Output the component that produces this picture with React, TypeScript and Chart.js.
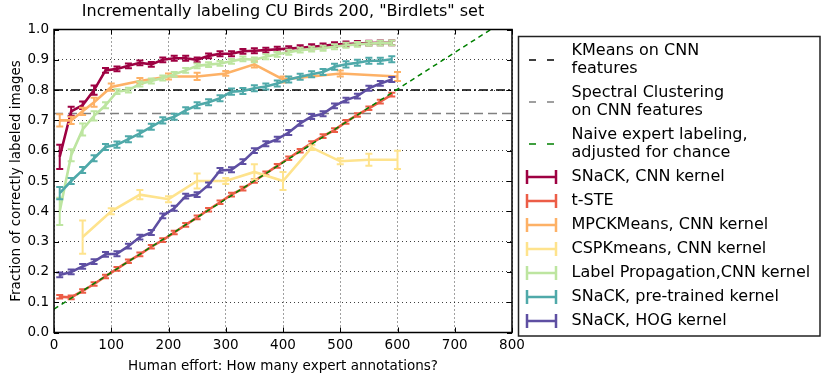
import React, { useEffect, useRef } from "react";
import { Chart, registerables } from "chart.js";

Chart.register(...registerables);

// ---------- data ----------
const xTicks = [0, 100, 200, 300, 400, 500, 600, 700, 800];
const yTicks = [0, 0.1, 0.2, 0.3, 0.4, 0.5, 0.6, 0.7, 0.8, 0.9, 1.0];

const effortX = [10, 30, 50, 70, 90, 110, 130, 150, 170, 190, 210, 230, 250, 270, 290, 310, 330, 350, 370, 390, 410, 430, 450, 470, 490, 510, 530, 550, 570, 590];

const snackCnnY = [0.58, 0.73, 0.75, 0.8, 0.865, 0.87, 0.88, 0.89, 0.885, 0.9, 0.905, 0.905, 0.9, 0.913, 0.92, 0.92, 0.928, 0.93, 0.932, 0.935, 0.937, 0.94, 0.943, 0.946, 0.95, 0.952, 0.954, 0.955, 0.956, 0.956];
const snackCnnErr = [0.04, 0.015, 0.012, 0.015, 0.008, 0.008, 0.008, 0.008, 0.008, 0.008, 0.008, 0.008, 0.008, 0.008, 0.008, 0.008, 0.008, 0.008, 0.008, 0.008, 0.008, 0.008, 0.008, 0.008, 0.008, 0.008, 0.008, 0.008, 0.008, 0.008];

const tsteY = [0.118, 0.116, 0.137, 0.16, 0.185, 0.21, 0.235, 0.258, 0.283, 0.305, 0.33, 0.355, 0.38, 0.405, 0.43, 0.455, 0.475, 0.5, 0.525, 0.55, 0.575, 0.6, 0.625, 0.648, 0.668, 0.695, 0.718, 0.74, 0.762, 0.785];
const tsteErr = [0.006, 0.006, 0.006, 0.006, 0.006, 0.006, 0.006, 0.006, 0.006, 0.006, 0.006, 0.006, 0.006, 0.006, 0.006, 0.006, 0.006, 0.006, 0.006, 0.006, 0.006, 0.006, 0.006, 0.006, 0.006, 0.006, 0.006, 0.006, 0.006, 0.006];

const mpckX = [10, 30, 50, 70, 100, 150, 200, 250, 300, 350, 400, 500, 600];
const mpckY = [0.7, 0.7, 0.73, 0.76, 0.81, 0.83, 0.845, 0.845, 0.855, 0.885, 0.835, 0.855, 0.845];
const mpckErr = [0.02, 0.012, 0.012, 0.015, 0.012, 0.01, 0.01, 0.012, 0.008, 0.01, 0.01, 0.01, 0.015];

const cspkX = [50, 100, 150, 200, 250, 300, 350, 400, 450, 500, 550, 600];
const cspkY = [0.315, 0.4, 0.455, 0.44, 0.5, 0.5, 0.53, 0.5, 0.61, 0.565, 0.57, 0.57];
const cspkErr = [0.055, 0.01, 0.015, 0.01, 0.025, 0.01, 0.025, 0.03, 0.008, 0.01, 0.02, 0.03];

const labelPropY = [0.4, 0.585, 0.67, 0.715, 0.75, 0.795, 0.8, 0.82, 0.83, 0.84, 0.852, 0.865, 0.88, 0.884, 0.888, 0.895, 0.903, 0.9, 0.91, 0.918, 0.925, 0.932, 0.935, 0.938, 0.943, 0.948, 0.951, 0.954, 0.955, 0.956];
const labelPropErr = [0.045, 0.02, 0.02, 0.015, 0.01, 0.008, 0.008, 0.008, 0.008, 0.008, 0.008, 0.008, 0.008, 0.008, 0.008, 0.008, 0.008, 0.008, 0.008, 0.008, 0.008, 0.008, 0.008, 0.008, 0.008, 0.008, 0.008, 0.008, 0.008, 0.008];

const pretrainedY = [0.46, 0.5, 0.536, 0.575, 0.612, 0.62, 0.638, 0.657, 0.679, 0.7, 0.712, 0.733, 0.75, 0.76, 0.773, 0.795, 0.797, 0.806, 0.812, 0.822, 0.835, 0.844, 0.852, 0.86, 0.877, 0.885, 0.89, 0.897, 0.897, 0.902];
const pretrainedErr = [0.02, 0.01, 0.01, 0.01, 0.01, 0.01, 0.01, 0.01, 0.01, 0.01, 0.01, 0.01, 0.01, 0.01, 0.01, 0.01, 0.01, 0.01, 0.01, 0.01, 0.01, 0.01, 0.01, 0.01, 0.01, 0.01, 0.01, 0.01, 0.01, 0.01];

const hogY = [0.19, 0.2, 0.218, 0.234, 0.258, 0.26, 0.285, 0.315, 0.33, 0.385, 0.41, 0.45, 0.455, 0.487, 0.535, 0.537, 0.564, 0.6, 0.623, 0.638, 0.66, 0.69, 0.713, 0.722, 0.748, 0.767, 0.78, 0.806, 0.822, 0.835];
const hogErr = [0.008, 0.008, 0.008, 0.008, 0.008, 0.008, 0.008, 0.008, 0.008, 0.008, 0.008, 0.008, 0.008, 0.008, 0.008, 0.008, 0.008, 0.008, 0.008, 0.008, 0.008, 0.008, 0.008, 0.008, 0.008, 0.008, 0.008, 0.008, 0.008, 0.008];

const kmeansLevel = 0.8;
const spectralLevel = 0.723;
const naiveX = [0, 800];
const naiveY = [0.077, 1.045];

const seriesNames = [
  "SNaCK, CNN kernel",
  "t-STE",
  "MPCKMeans, CNN kernel",
  "CSPKmeans, CNN kernel",
  "Label Propagation,CNN kernel",
  "SNaCK, pre-trained kernel",
  "SNaCK, HOG kernel",
];
const seriesColors = ["#9e0142", "#ec5d47", "#fdb166", "#fee38d", "#bde5a0", "#4fa9a9", "#5e4fa2"];

const refNames = [
  ["KMeans on CNN", "features"],
  ["Spectral Clustering", "on CNN features"],
  ["Naive expert labeling,", "adjusted for chance"],
];
const refColors = ["#000000", "#808080", "#008000"];

const titleText = 'Incrementally labeling CU Birds 200, "Birdlets" set';
const xLabel = "Human effort: How many expert annotations?";
const yLabel = "Fraction of correctly labeled images";

const FONT = '"DejaVu Sans", sans-serif';

const pts = (xs: number[], ys: number[]) => xs.map((x, i) => ({ x, y: ys[i] }));

const errorBarPlugin = {
  id: "errbars",
  afterDatasetDraw(chart: any, args: any) {
    const ds = chart.data.datasets[args.index];
    if (!ds.err) return;
    const ctx = chart.ctx;
    const ys = chart.scales.y;
    const a = chart.chartArea;
    ctx.save();
    ctx.beginPath();
    ctx.rect(a.left, a.top - 2, a.right - a.left, a.bottom - a.top + 4);
    ctx.clip();
    ctx.strokeStyle = ds.borderColor;
    ctx.lineWidth = 2;
    ctx.setLineDash([]);
    args.meta.data.forEach((el: any, i: number) => {
      const v = ds.data[i].y;
      const e = ds.err[i];
      const x = el.x;
      const y1 = ys.getPixelForValue(v - e);
      const y2 = ys.getPixelForValue(v + e);
      ctx.beginPath();
      ctx.moveTo(x, y1);
      ctx.lineTo(x, y2);
      ctx.moveTo(x - 3.5, y1);
      ctx.lineTo(x + 3.5, y1);
      ctx.moveTo(x - 3.5, y2);
      ctx.lineTo(x + 3.5, y2);
      ctx.stroke();
    });
    ctx.restore();
  },
};

const decorPlugin = {
  id: "decor",
  afterDraw(chart: any) {
    const ctx = chart.ctx;
    const a = chart.chartArea;
    const xs = chart.scales.x;
    const ys = chart.scales.y;
    ctx.save();
    // inward ticks
    ctx.strokeStyle = "#000";
    ctx.lineWidth = 1;
    ctx.setLineDash([]);
    xTicks.forEach((t) => {
      const px = Math.round(xs.getPixelForValue(t)) + 0.5;
      ctx.beginPath();
      ctx.moveTo(px, a.bottom);
      ctx.lineTo(px, a.bottom - 5);
      ctx.moveTo(px, a.top);
      ctx.lineTo(px, a.top + 5);
      ctx.stroke();
    });
    yTicks.forEach((t) => {
      const py = Math.round(ys.getPixelForValue(t)) + 0.5;
      ctx.beginPath();
      ctx.moveTo(a.left, py);
      ctx.lineTo(a.left + 5, py);
      ctx.moveTo(a.right, py);
      ctx.lineTo(a.right - 5, py);
      ctx.stroke();
    });
    // frame
    ctx.lineWidth = 1.5;
    ctx.strokeRect(a.left, a.top, a.right - a.left, a.bottom - a.top);

    // title & axis labels
    ctx.fillStyle = "#000";
    ctx.textAlign = "center";
    ctx.textBaseline = "middle";
    ctx.font = `16px ${FONT}`;
    ctx.fillText(titleText, (a.left + a.right) / 2, 12);
    ctx.font = `13.5px ${FONT}`;
    ctx.fillText(xLabel, (a.left + a.right) / 2, 366);
    ctx.save();
    ctx.translate(16, (a.top + a.bottom) / 2);
    ctx.rotate(-Math.PI / 2);
    ctx.fillText(yLabel, 0, 0);
    ctx.restore();

    // legend
    const lx = 518.5, ly = 36.5, lw = 301.5, lh = 299.5;
    ctx.fillStyle = "#fff";
    ctx.fillRect(lx, ly, lw, lh);
    ctx.strokeStyle = "#222";
    ctx.lineWidth = 1.5;
    ctx.strokeRect(lx, ly, lw, lh);
    ctx.font = `16px ${FONT}`;
    ctx.textAlign = "left";
    ctx.fillStyle = "#000";
    const textX = 571.5;
    const refRows = [[51, 69], [93, 111], [135, 153]];
    refNames.forEach((lines, i) => {
      const [y1, y2] = refRows[i];
      const ym = (y1 + y2) / 2;
      ctx.strokeStyle = refColors[i];
      ctx.lineWidth = 1.5;
      ctx.beginPath();
      ctx.moveTo(529, ym);
      ctx.lineTo(536, ym);
      ctx.moveTo(547, ym);
      ctx.lineTo(554, ym);
      ctx.stroke();
      ctx.fillStyle = "#000";
      ctx.fillText(lines[0], textX, y1);
      ctx.fillText(lines[1], textX, y2);
    });
    seriesNames.forEach((name, i) => {
      const y = 177 + i * 24;
      ctx.strokeStyle = seriesColors[i];
      ctx.lineWidth = 2.5;
      ctx.beginPath();
      ctx.moveTo(527, y);
      ctx.lineTo(556, y);
      ctx.moveTo(527, y - 7);
      ctx.lineTo(527, y + 7);
      ctx.moveTo(556, y - 7);
      ctx.lineTo(556, y + 7);
      ctx.stroke();
      ctx.fillStyle = "#000";
      ctx.fillText(name, textX, y);
    });
    ctx.restore();
  },
};

export default function App() {
  const ref = useRef<HTMLCanvasElement>(null);
  useEffect(() => {
    if (!ref.current) return;
    const seriesX = [effortX, effortX, mpckX, cspkX, effortX, effortX, effortX];
    const seriesY = [snackCnnY, tsteY, mpckY, cspkY, labelPropY, pretrainedY, hogY];
    const seriesErr = [snackCnnErr, tsteErr, mpckErr, cspkErr, labelPropErr, pretrainedErr, hogErr];
    const lineDatasets: any[] = seriesNames.map((name, i) => ({
      label: name,
      data: pts(seriesX[i], seriesY[i]),
      err: seriesErr[i],
      borderColor: seriesColors[i],
      backgroundColor: seriesColors[i],
      borderWidth: 2.6,
      pointRadius: 0,
      tension: 0,
      fill: false,
      order: 20 - i,
    }));
    const refDatasets: any[] = [
      {
        label: refNames[0].join(" "),
        data: pts([0, 800], [kmeansLevel, kmeansLevel]),
        borderColor: refColors[0],
        borderWidth: 1.5,
        borderDash: [9, 3, 2, 3],
        pointRadius: 0,
        order: 30,
      },
      {
        label: refNames[1].join(" "),
        data: pts([0, 800], [spectralLevel, spectralLevel]),
        borderColor: refColors[1],
        borderWidth: 1.5,
        borderDash: [9, 5],
        pointRadius: 0,
        order: 29,
      },
      {
        label: refNames[2].join(" "),
        data: pts(naiveX, naiveY),
        borderColor: refColors[2],
        borderWidth: 1.5,
        borderDash: [5, 4],
        pointRadius: 0,
        order: 5,
      },
    ];
    const chart = new Chart(ref.current, {
      type: "line",
      data: { datasets: [...refDatasets, ...lineDatasets] },
      options: {
        animation: false,
        responsive: false,
        devicePixelRatio: 1,
        layout: { padding: { left: 0, top: 29.5, right: 318, bottom: 0 } },
        plugins: { legend: { display: false }, tooltip: { enabled: false }, title: { display: false } },
        scales: {
          x: {
            type: "linear",
            min: 0,
            max: 800,
            afterFit: (s: any) => { s.height = 48.5; },
            afterBuildTicks: (s: any) => { s.ticks = xTicks.map((v) => ({ value: v })); },
            ticks: { color: "#000", font: { family: FONT, size: 13.5 }, padding: 5, maxRotation: 0 },
            grid: { color: "rgba(0,0,0,0.75)", lineWidth: 1, drawTicks: false },
            border: { display: false, dash: [1, 3] },
          },
          y: {
            type: "linear",
            min: 0,
            max: 1,
            afterFit: (s: any) => { s.width = 54; },
            afterBuildTicks: (s: any) => { s.ticks = yTicks.map((v) => ({ value: v })); },
            ticks: {
              color: "#000",
              font: { family: FONT, size: 13.5 },
              padding: 5,
              callback: (v: any) => Number(v).toFixed(1),
            },
            grid: { color: "rgba(0,0,0,0.75)", lineWidth: 1, drawTicks: false },
            border: { display: false, dash: [1, 3] },
          },
        },
      },
      plugins: [errorBarPlugin, decorPlugin],
    } as any);
    return () => chart.destroy();
  }, []);
  return (
    <div style={{ position: "absolute", left: 0, top: 0, width: 830, height: 381, background: "#fff" }}>
      <canvas ref={ref} width={830} height={381} style={{ display: "block", width: 830, height: 381 }} />
    </div>
  );
}
